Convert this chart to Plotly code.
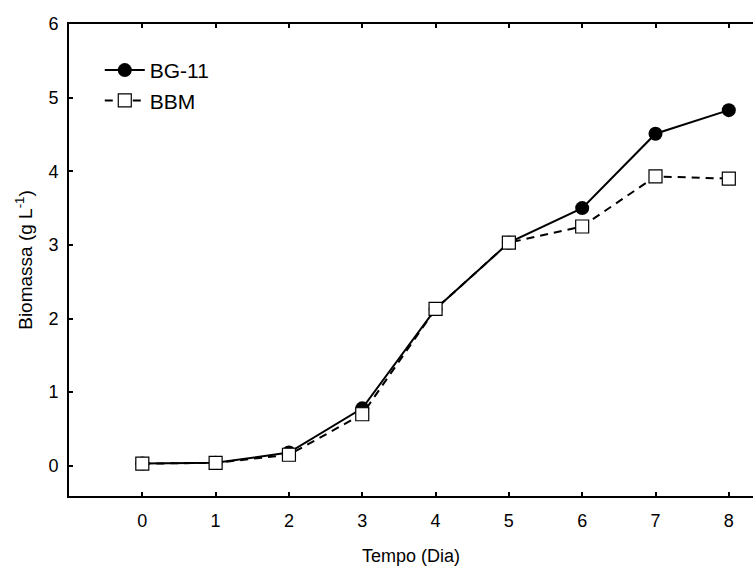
import plotly.graph_objects as go

dias = [0, 1, 2, 3, 4, 5, 6, 7, 8]
bg11 = [0.03, 0.04, 0.18, 0.78, 2.13, 3.03, 3.50, 4.51, 4.83]
bbm = [0.03, 0.04, 0.15, 0.70, 2.13, 3.03, 3.25, 3.93, 3.90]

fig = go.Figure()
fig.add_trace(go.Scatter(
    x=dias, y=bg11, name="BG-11", mode="lines+markers",
    line=dict(color="black", width=2),
    marker=dict(symbol="circle", size=14, color="black"),
))
fig.add_trace(go.Scatter(
    x=dias, y=bbm, name="BBM", mode="lines+markers",
    line=dict(color="black", width=2, dash="8px,6px"),
    marker=dict(symbol="square", size=13, color="white", line=dict(color="black", width=1.2)),
))

font = "Liberation Sans, Arial, sans-serif"
fig.update_layout(
    width=753, height=566,
    margin=dict(l=69, r=0, t=24, b=70),
    plot_bgcolor="white", paper_bgcolor="white",
    font=dict(family=font, size=17, color="black"),
    showlegend=True,
    legend=dict(x=0.045, y=0.945, xanchor="left", yanchor="top",
                font=dict(size=21), bgcolor="rgba(0,0,0,0)", tracegroupgap=0,
                itemwidth=40),
    xaxis=dict(range=[-1, 8.33], tickvals=dias, ticks="inside", ticklen=4, tickwidth=1.5,
               tickcolor="black", showline=True, linecolor="black", linewidth=2,
               mirror="ticks", showgrid=False, zeroline=False, ticklabelstandoff=7,
               tickfont=dict(size=18),
               title=dict(text="Tempo (Dia)", font=dict(size=18), standoff=21)),
    yaxis=dict(range=[-0.41, 6], tickvals=[0, 1, 2, 3, 4, 5, 6], ticks="inside", ticklen=4,
               tickwidth=1.5, tickcolor="black", showline=True, linecolor="black", linewidth=2,
               showgrid=False, zeroline=False, ticklabelstandoff=5,
               tickfont=dict(size=18),
               title=dict(text="Biomassa (g L<sup>-1</sup>)", font=dict(size=19), standoff=11)),
)

fig.write_html("out.html")
